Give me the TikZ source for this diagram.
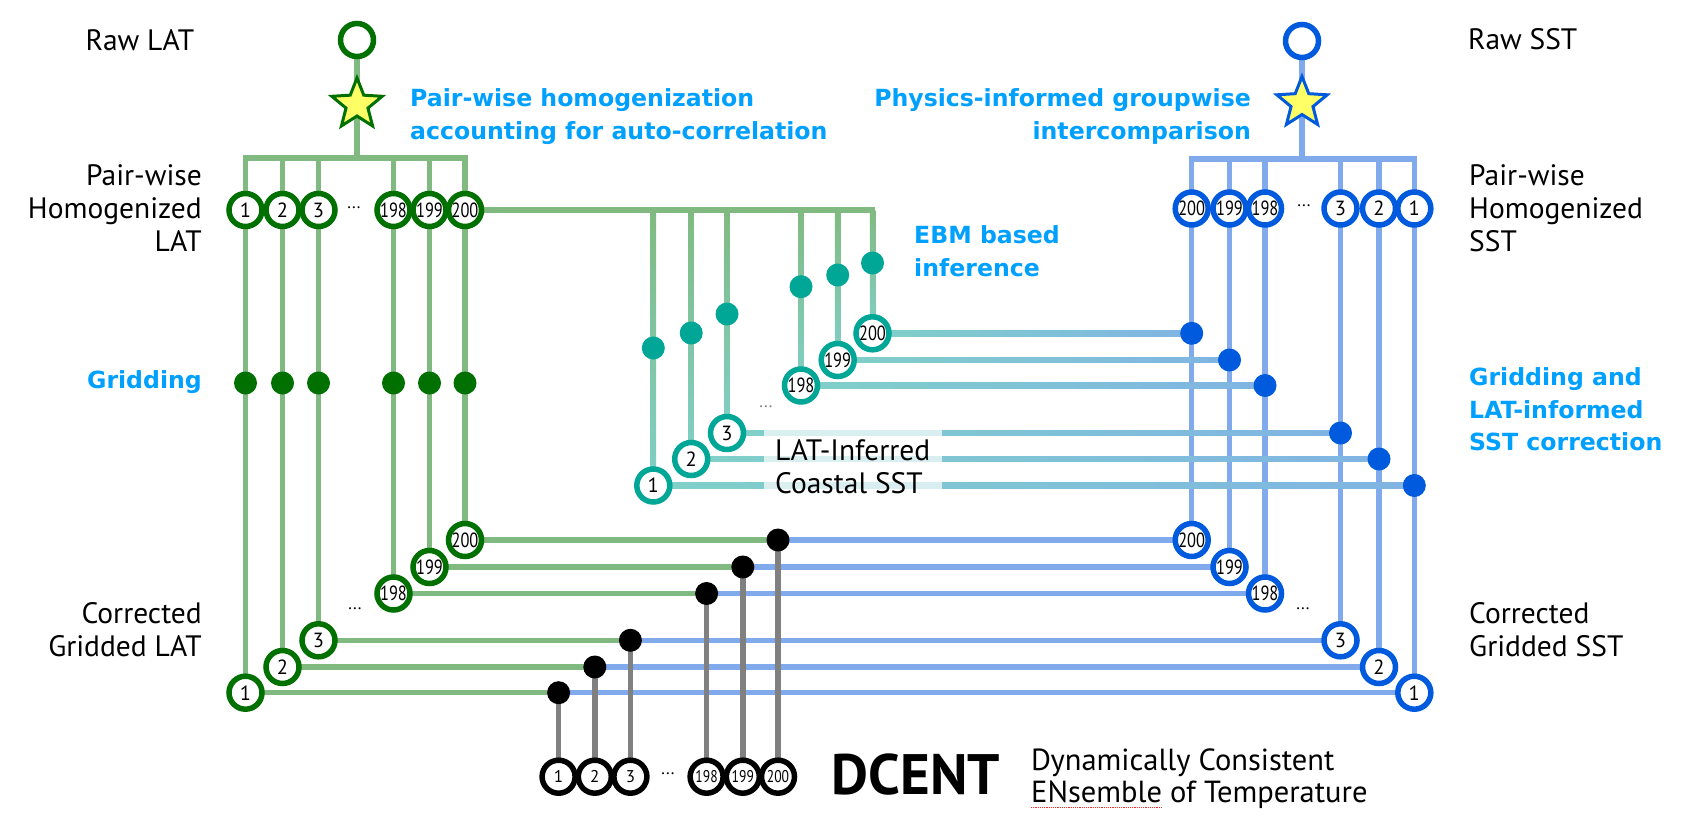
\documentclass[tikz,border=0pt]{standalone}
\usepackage{fontspec}
\usepackage{graphicx}
\setmainfont{PT Sans}
\newfontfamily\boldlab{DejaVu Sans}
\usetikzlibrary{shapes.geometric,calc}
\pgfdeclarelayer{back}
\pgfdeclarelayer{bg}
\pgfsetlayers{back,bg,main}
\definecolor{gdark}{RGB}{0,112,0}
\definecolor{gline}{RGB}{128,186,128}
\definecolor{tealc}{RGB}{0,166,150}
\definecolor{tline}{RGB}{128,208,200}
\definecolor{bhl}{RGB}{128,180,228}
\definecolor{bdark}{RGB}{0,90,222}
\definecolor{bline}{RGB}{128,170,236}
\definecolor{greyl}{RGB}{128,128,128}
\definecolor{lblue}{RGB}{0,160,255}
\definecolor{starfill}{RGB}{255,255,102}
\newcommand\tnum[1]{\scalebox{0.8}[1]{#1}}
\begin{document}
\begin{tikzpicture}[x=1pt,y=-1pt,
  ring/.style={circle,draw,line width=5.5pt,fill=white,minimum size=33pt,inner sep=0pt,font=\fontsize{20.5}{20.5}\selectfont},
  latc/.style={ring,draw=gdark},
  sstc/.style={ring,draw=bdark},
  teac/.style={ring,draw=tealc},
  blkc/.style={ring,draw=black,font=\fontsize{17}{17}\selectfont},
  dotn/.style={circle,minimum size=23pt,inner sep=0pt},
  gdot/.style={dotn,fill=gdark},
  tdot/.style={dotn,fill=tealc},
  bdot/.style={dotn,fill=bdark},
  kdot/.style={dotn,fill=black},
  wire/.style={line width=5.5pt},
  lab/.style={font=\fontsize{29.5}{33}\selectfont,inner sep=0pt},
  blab/.style={font=\boldlab\bfseries\fontsize{23.6}{33}\selectfont,text=lblue,inner sep=0pt},
  ell/.style={font=\fontsize{17}{17}\selectfont,inner sep=0pt},
  starn/.style={star,star points=5,star point ratio=2.3,minimum size=53pt,inner sep=0pt,fill=starfill,line width=3pt}
]
\useasboundingbox (0,0) rectangle (1691,837);
\begin{pgfonlayer}{back}
  \fill[white] (0,0) rectangle (1691,837);
\end{pgfonlayer}

% ---------- LAT side
\node[ring,draw=gdark] (rawl) at (357,40) {};
\node[starn,draw=gdark] (starl) at (357,104.5) {};
\coordinate (busl) at (357,158);
\foreach \n/\x/\yb/\t in {1/245.5/692.7/1, 2/282.5/667/2, 3/318.5/640.3/3, 198/393.5/593.5/\tnum{198}, 199/429.5/567/\tnum{199}, 200/465/540/\tnum{200}} {
  \node[latc] (lt\n) at (\x,210) {\t};
  \node[latc] (lb\n) at (\x,\yb) {\t};
  \node[gdot] (lg\n) at (\x,383) {};
}
\node[ell] (eltop) at (354,208) {...};
\node[ell] (elbot) at (355,609) {...};

% ---------- SST side
\node[ring,draw=bdark] (raws) at (1302,41) {};
\node[starn,draw=bdark] (stars) at (1302,103) {};
\coordinate (buss) at (1302,159);
\foreach \n/\x/\yb/\yd/\t in {1/1414.3/692.7/485.5/1, 2/1379/667/459/2, 3/1340.5/640.3/433/3, 198/1265/593.5/385.5/\tnum{198}, 199/1229.5/567/360/\tnum{199}, 200/1191.7/540/333.3/\tnum{200}} {
  \node[sstc] (st\n) at (\x,208.5) {\t};
  \node[sstc] (sb\n) at (\x,\yb) {\t};
  \node[bdot] (sd\n) at (\x,\yd) {};
}
\node[ell] (estop) at (1304,206) {...};
\node[ell] (esbot) at (1303,609) {...};

% ---------- EBM (teal)
\coordinate (ebm) at (872.5,210);
\foreach \n/\x/\yc/\yd/\t in {1/653.3/485.5/348/1, 2/691.2/459/333/2, 3/727/433/314/3, 198/801/385.5/286.7/\tnum{198}, 199/837.7/360/275/\tnum{199}, 200/872.5/333.3/263/\tnum{200}} {
  \node[teac] (tc\n) at (\x,\yc) {\t};
  \node[tdot] (td\n) at (\x,\yd) {};
}
\node[ell,text=greyl] (etea) at (766,407) {...};

% ---------- DCENT (black)
\foreach \n/\x/\yd/\t in {1/558.6/692.7/1, 2/594.8/667/2, 3/630.4/640.3/3, 198/706.6/593.5/\tnum{198}, 199/742.8/567/\tnum{199}, 200/778/540/\tnum{200}} {
  \node[blkc] (kc\n) at (\x,776.7) {\t};
  \node[kdot] (kd\n) at (\x,\yd) {};
}
\node[ell] (eblk) at (668,774) {...};

% ---------- connectors
\begin{pgfonlayer}{bg}
  \draw[wire,gline] (rawl.center) -- (busl);
  \draw[wire,gline,line cap=rect] (lt1.center |- busl) -- (lt200.center |- busl);
  \foreach \n in {1,2,3,198,199,200} \draw[wire,gline] (lt\n.center |- busl) -- (lb\n.center);
  \draw[wire,gline,line cap=rect] (lt200.center) -- (ebm);
  \draw[wire,bline] (raws.center) -- (buss);
  \draw[wire,bline,line cap=rect] (st200.center |- buss) -- (st1.center |- buss);
  \foreach \n in {1,2,3,198,199,200} \draw[wire,bline] (st\n.center |- buss) -- (sb\n.center);
  \foreach \n in {1,2,3,198,199,200} {
    \shade[top color=gline,bottom color=tline] ($(tc\n.center |- ebm)+(-2.75,0)$) rectangle ($(tc\n.center)+(2.75,0)$);
    \shade[left color=tline,right color=bhl] ($(tc\n.center)+(0,-2.75)$) rectangle ($(sd\n.center)+(0,2.75)$);
  }
  \foreach \n in {1,2,3,198,199,200} {
    \draw[wire,gline] (lb\n.center) -- (kd\n.center);
    \draw[wire,bline] (kd\n.center) -- (sb\n.center);
    \draw[wire,greyl] (kd\n.center) -- (kc\n.center);
  }
\end{pgfonlayer}

% ---------- labels
\node[lab] (lraw) at (140,40) {Raw LAT};
\node[lab,align=right,anchor=east] (lhom) at (202,208) {Pair-wise\\Homogenized\\LAT};
\node[blab,anchor=east] (lgrid) at (202,382) {Gridding};
\node[lab,align=right,anchor=east] (lcor) at (202,629.6) {Corrected\\Gridded LAT};

\node[lab,anchor=west] (sraw) at (1468,39) {Raw SST};
\node[lab,align=left,anchor=west] (shom) at (1469,208) {Pair-wise\\Homogenized\\SST};
\node[blab,align=left,anchor=west,font=\boldlab\bfseries\fontsize{23.6}{32.5}\selectfont] (sgrid) at (1469,409.6) {Gridding and\\LAT-informed\\SST correction};
\node[lab,align=left,anchor=west] (scor) at (1469,629.6) {Corrected\\Gridded SST};

\node[blab,align=left,anchor=west] (phom) at (410,116.3) {Pair-wise homogenization\\accounting for auto-correlation};
\node[blab,align=right,anchor=east] (pgrp) at (1251,116.3) {Physics-informed groupwise\\intercomparison};
\node[blab,align=left,anchor=west] (pebm) at (914,251.5) {EBM based\\inference};

\node[fill=white,fill opacity=0.7,minimum width=178pt,minimum height=66pt,inner sep=0pt,anchor=north west] (cbox) at (764,427) {};
\node[lab,align=left,anchor=west] (coast) at (775,466.5) {LAT-Inferred\\Coastal SST};

\node[font=\fontsize{57}{57}\selectfont\bfseries,inner sep=0pt] (dcent) at (916,775) {DCENT};
\node[lab,align=left,anchor=west,font=\fontsize{30.5}{32}\selectfont] (dce) at (1031,778.5) {Dynamically Consistent\\ENsemble of Temperature};
\draw[red!85,densely dotted,line width=1.2pt] ($(dce.south west)+(0,-1)$) -- ++(132,0);
\end{tikzpicture}
\end{document}
